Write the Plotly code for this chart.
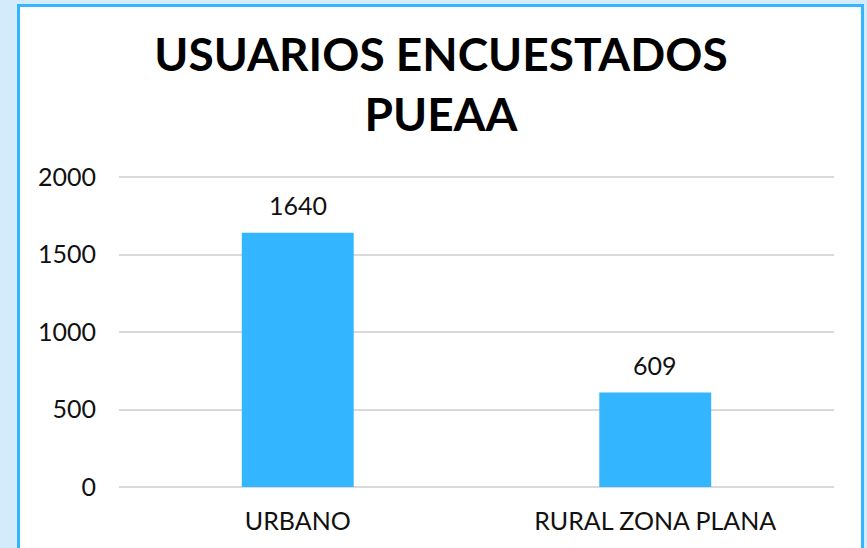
import plotly.graph_objects as go

categories = ["URBANO", "RURAL ZONA PLANA"]
values = [1640, 609]
tick_vals = [0, 500, 1000, 1500, 2000]
title_text = "USUARIOS ENCUESTADOS<br>PUEAA"

W, H = 867, 548
L, R, T, B = 119, 33, 175, 61
pw, ph = W - L - R, H - T - B
y_top = 2000 * ph / (ph - 2)

def px_x(px):
    return (px - L) / pw

def px_y(py):
    return (H - B - py) / ph

BAR = "#33B5FF"
FONT = "Lato"

fig = go.Figure()
fig.add_trace(go.Bar(
    x=categories, y=values, marker=dict(color=BAR, line=dict(width=0)),
    width=0.313, hoverinfo="skip",
))

for c, v in zip(categories, values):
    fig.add_annotation(x=c, y=v, xref="x", yref="y", text=str(v), showarrow=False,
                       yanchor="bottom", yshift=11, font=dict(family=FONT, size=25, color="#111111"))

fig.add_shape(type="rect", xref="paper", yref="paper",
              x0=px_x(18.5), x1=px_x(862.5), y0=px_y(600), y1=px_y(5.5),
              line=dict(color="#33B5FF", width=3), fillcolor="white", layer="below")

fig.update_layout(
    width=W, height=H,
    margin=dict(l=L, r=R, t=T, b=B, autoexpand=False),
    paper_bgcolor="#d4ebfc", plot_bgcolor="rgba(0,0,0,0)",
    showlegend=False,
    title=dict(text=title_text, xref="container", x=441 / W, xanchor="center",
               yref="container", y=1 - 71 / H, yanchor="top",
               font=dict(family=FONT, size=46, color="black", weight="bold")),
    xaxis=dict(showgrid=False, showline=False, ticks="", ticklabelstandoff=17,
               tickfont=dict(family=FONT, size=25, color="#111111")),
    yaxis=dict(range=[0, y_top], tickvals=tick_vals, showgrid=True, gridcolor="#d9d9d9", gridwidth=1.5,
               zeroline=True, zerolinecolor="#d9d9d9", zerolinewidth=1.5, showline=False, ticks="",
               ticklabelstandoff=22, tickfont=dict(family=FONT, size=25, color="#111111")),
)

fig.write_html("out.html", config={"displayModeBar": False},
               post_script="document.body.style.margin='0';document.body.style.overflow='hidden';")
